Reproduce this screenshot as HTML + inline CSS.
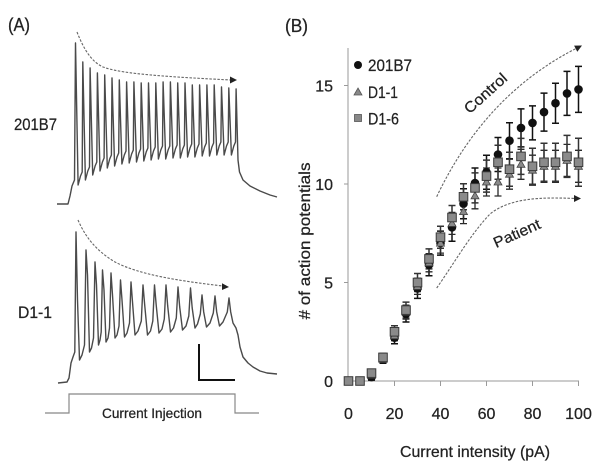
<!DOCTYPE html>
<html><head><meta charset="utf-8"><style>
html,body{margin:0;padding:0;background:#fff;}
svg{display:block;}
text{font-family:"Liberation Sans",sans-serif;fill:#222;stroke:#222;stroke-width:0.25;}
</style></head><body>
<svg width="600" height="470" viewBox="0 0 600 470" xmlns="http://www.w3.org/2000/svg">
<rect width="600" height="470" fill="#fff"/>
<!-- Panel A -->
<text x="8" y="31" font-size="18" textLength="22" lengthAdjust="spacingAndGlyphs">(A)</text>
<text x="14" y="130" font-size="17" textLength="43" lengthAdjust="spacingAndGlyphs">201B7</text>
<text x="18" y="318" font-size="17" textLength="34" lengthAdjust="spacingAndGlyphs">D1-1</text>

<!-- top trace -->
<path fill="none" stroke="#4a4a4a" stroke-width="1.4" stroke-linejoin="round" d="M57,204 L68,204 L70,196 L72,186 L74.5,180 L75.5,43
L78.1,185 L80.5,176 L82.2,172 L82.8,62
L85.4,180 L87.8,171 L89.5,167 L90.1,68
L92.7,175 L95.1,166 L96.8,162 L97.4,73
L100,171 L102.4,162 L104.1,158 L104.7,75
L107.3,168 L109.7,159 L111.4,155 L112,78
L114.6,166 L117,157 L118.7,153 L119.3,80
L121.9,164 L124.3,155 L126,151 L126.6,82
L129.2,163 L131.6,154 L133.3,150 L133.9,82
L136.5,162 L138.9,153 L140.6,149 L141.2,83
L143.8,161 L146.2,152 L147.9,148 L148.5,83
L151.1,160 L153.5,151 L155.2,147 L155.8,83
L158.4,159 L160.8,150 L162.5,146 L163.1,82
L165.7,159 L168.1,150 L169.8,146 L170.4,82
L173,158 L175.4,149 L177.1,145 L177.7,83
L180.3,158 L182.7,149 L184.4,145 L185,83
L187.6,157 L190,148 L191.7,144 L192.3,85
L194.9,157 L197.3,148 L199,144 L199.6,85
L202.2,156 L204.6,147 L206.3,143 L206.9,85
L209.5,156 L211.9,147 L213.6,143 L214.2,85
L216.8,155 L219.2,146 L220.9,142 L221.5,87
L224.1,155 L226.5,146 L228.2,142 L228.8,88
L231.4,155 L233.8,146 L235.5,142 L236.1,89
L238,160 L239.5,172 L243,180 L250,186 L260,191 L270,195 L277,197"/>

<!-- bottom trace -->
<path fill="none" stroke="#4a4a4a" stroke-width="1.4" stroke-linejoin="round" d="M58,383 L67,382 L69,378 L71,363 L73,357 L74.8,352 L76,232
L77.5,300 L79.5,360 L82,355 L84.5,345 L86,250
L87.5,275 L89.5,352 L91.5,348 L93.5,338 L95,262
L96.5,285 L98.5,345 L100,340 L101.2,332 L102.5,270
L104,290 L106,342 L108,338 L109.5,328 L111,273
L112.5,295 L115,338 L117,335 L119,326 L120.5,280
L122,300 L124.5,337 L127,333 L129.5,323 L131,282
L132.5,302 L135,335 L138,331 L141.3,321 L143,285
L144.7,305 L147.5,335 L150.5,331 L152.8,321 L154.5,285
L156.2,305 L159,333 L162,329 L164.3,319 L166,285
L167.7,306 L170.5,332 L173.5,328 L176.3,318 L178,287
L179.7,307 L182.5,330 L186,326 L188.8,316 L190.5,288
L192.2,308 L195,328 L197.5,324 L200.3,314 L202,295
L203.7,312 L206.5,327 L210,323 L213.3,313 L215,296
L216.7,312 L219.5,326 L223,322 L227.3,312 L229,298
L230.7,312 L233,323 L236,328 L238,335 L240,347 L243,357 L248,363 L253,367 L260,371 L267,373 L277,374"/>

<!-- dashed arrows A -->
<path fill="none" stroke="#666" stroke-width="1.1" stroke-dasharray="2.5 1.5" d="M77,32 C84,50 92,62 103,67 C120,73 150,76 231,80"/>
<polygon points="237,80 230,76.5 230,83.5" fill="#222"/>
<path fill="none" stroke="#666" stroke-width="1.1" stroke-dasharray="2.5 1.5" d="M78,220 C85,236 95,250 115,262 C140,275 180,281 223,286"/>
<polygon points="229,287 222,283.3 222,290" fill="#222"/>

<!-- scale bar -->
<path fill="none" stroke="#111" stroke-width="2" d="M199,344 L199,380 L235,380"/>

<!-- current injection -->
<path fill="none" stroke="#888" stroke-width="1.2" d="M45,413 L69,413 L69,394 L235,394 L235,413 L259,413"/>
<text x="152" y="418" font-size="14" text-anchor="middle" textLength="100" lengthAdjust="spacingAndGlyphs">Current Injection</text>

<!-- Panel B -->
<text x="285" y="32" font-size="18" textLength="23" lengthAdjust="spacingAndGlyphs">(B)</text>

<!-- axes -->
<path fill="none" stroke="#9a9a9a" stroke-width="1" d="M348,48 L348,381 L579,381 M344,85.5 L348,85.5 M344,184 L348,184 M344,282.5 L348,282.5 M394.5,381 L394.5,386 M440.5,381 L440.5,386 M486.5,381 L486.5,386 M532.5,381 L532.5,386 M578.5,381 L578.5,386"/>

<g font-size="16" text-anchor="end">
<text x="333" y="91.5">15</text>
<text x="333" y="190">10</text>
<text x="333" y="288.5">5</text>
<text x="333" y="387">0</text>
</g>
<g font-size="16" text-anchor="middle">
<text x="348.5" y="419">0</text>
<text x="394.5" y="419">20</text>
<text x="440.5" y="419">40</text>
<text x="486.5" y="419">60</text>
<text x="532.5" y="419">80</text>
<text x="578.5" y="419">100</text>
</g>
<text x="475" y="457" font-size="16" text-anchor="middle" textLength="150" lengthAdjust="spacingAndGlyphs">Current intensity (pA)</text>
<text transform="translate(310,241) rotate(-90)" x="0" y="0" font-size="16" text-anchor="middle" textLength="157" lengthAdjust="spacingAndGlyphs"># of action potentials</text>

<!-- legend -->
<circle cx="358" cy="65" r="4" fill="#111"/>
<text x="368" y="71" font-size="17" textLength="44" lengthAdjust="spacingAndGlyphs">201B7</text>
<polygon points="358,88 362,95 354,95" fill="#888" stroke="#555" stroke-width="0.8"/>
<text x="368" y="98" font-size="17" textLength="30" lengthAdjust="spacingAndGlyphs">D1-1</text>
<rect x="354.5" y="114.5" width="7" height="7" fill="#888" stroke="#555" stroke-width="0.8"/>
<text x="368" y="124.5" font-size="17" textLength="31" lengthAdjust="spacingAndGlyphs">D1-6</text>

<!-- Control / Patient arrows -->
<path fill="none" stroke="#666" stroke-width="1.1" stroke-dasharray="2.5 1.5" d="M436.7,196.7 Q485,95 576,48.5"/>
<polygon points="582,45.5 577.3,51.8 574.1,45.6" fill="#222"/>
<path fill="none" stroke="#666" stroke-width="1.1" stroke-dasharray="2.5 1.5" d="M436.7,288 C455,262 470,235 490,214 C510,198 540,197 575,198.5"/>
<polygon points="581,198.5 574,195 574,202" fill="#222"/>
<text transform="translate(489,97) rotate(-42)" font-size="15" text-anchor="middle" textLength="52" lengthAdjust="spacingAndGlyphs">Control</text>
<text transform="translate(519,238) rotate(-24)" font-size="15" text-anchor="middle" textLength="50" lengthAdjust="spacingAndGlyphs">Patient</text>

<!-- error bars -->
<path fill="none" stroke="#111" stroke-width="1.5" d="
M371.5,374.1V380.1M368,374.1h7M368,380.1h7
M383,355.3V363.3M379.5,355.3h7M379.5,363.3h7
M394.5,331.7V343.7M391,331.7h7M391,343.7h7
M406,306V322M402.5,306h7M402.5,322h7
M417.5,278.4V298.4M414,278.4h7M414,298.4h7
M429,253.8V275.8M425.5,253.8h7M425.5,275.8h7
M440.5,231.1V255.1M437,231.1h7M437,255.1h7
M452,213.3V241.3M448.5,213.3h7M448.5,241.3h7
M463.5,188.7V218.7M460,188.7h7M460,218.7h7
M475,168V198M471.5,168h7M471.5,198h7
M486.5,155.2V189.2M483,155.2h7M483,189.2h7
M498,137.5V171.5M494.5,137.5h7M494.5,171.5h7
M509.5,122.7V158.7M506,122.7h7M506,158.7h7
M521,108.9V146.9M517.5,108.9h7M517.5,146.9h7
M532.5,105.9V139.9M529,105.9h7M529,139.9h7
M544,93.1V131.1M540.5,93.1h7M540.5,131.1h7
M555.5,83.2V123.2M552,83.2h7M552,123.2h7
M567,71.4V115.4M563.5,71.4h7M563.5,115.4h7
M578.5,66.4V112.4M575,66.4h7M575,112.4h7
"/>
<path fill="none" stroke="#2a2a2a" stroke-width="1.3" d="
M371.5,373.1V377.1M368,373.1h7M368,377.1h7
M383,356.3V362.3M379.5,356.3h7M379.5,362.3h7
M394.5,330.7V340.7M391,330.7h7M391,340.7h7
M406,305.1V319.1M402.5,305.1h7M402.5,319.1h7
M417.5,278.4V294.4M414,278.4h7M414,294.4h7
M429,253.8V271.8M425.5,253.8h7M425.5,271.8h7
M440.5,233.1V253.1M437,233.1h7M437,253.1h7
M452,212.4V234.4M448.5,212.4h7M448.5,234.4h7
M463.5,199.6V223.6M460,199.6h7M460,223.6h7
M475,182.8V208.8M471.5,182.8h7M471.5,208.8h7
M486.5,168V196M483,168h7M483,196h7
M498,168V196M494.5,168h7M494.5,196h7
M509.5,159.2V189.2M506,159.2h7M506,189.2h7
M521,149.3V179.3M517.5,149.3h7M517.5,179.3h7
M532.5,155.2V185.2M529,155.2h7M529,185.2h7
M544,150.3V182.3M540.5,150.3h7M540.5,182.3h7
M555.5,150.3V182.3M552,150.3h7M552,182.3h7
M567,144.4V176.4M563.5,144.4h7M563.5,176.4h7
M578.5,150.3V182.3M575,150.3h7M575,182.3h7
"/>
<path fill="none" stroke="#333" stroke-width="1.5" d="
M371.5,370.1V376.1M368,370.1h7M368,376.1h7
M383,353.4V361.4M379.5,353.4h7M379.5,361.4h7
M394.5,325.8V337.8M391,325.8h7M391,337.8h7
M406,302.1V318.1M402.5,302.1h7M402.5,318.1h7
M417.5,273.5V291.5M414,273.5h7M414,291.5h7
M429,248.9V268.9M425.5,248.9h7M425.5,268.9h7
M440.5,226.2V248.2M437,226.2h7M437,248.2h7
M452,205.5V229.5M448.5,205.5h7M448.5,229.5h7
M463.5,183.8V209.8M460,183.8h7M460,209.8h7
M475,172.9V202.9M471.5,172.9h7M471.5,202.9h7
M486.5,160.1V192.1M483,160.1h7M483,192.1h7
M498,145.3V179.3M494.5,145.3h7M494.5,179.3h7
M509.5,152.2V186.2M506,152.2h7M506,186.2h7
M521,138.4V174.4M517.5,138.4h7M517.5,174.4h7
M532.5,148.3V184.3M529,148.3h7M529,184.3h7
M544,143.3V181.3M540.5,143.3h7M540.5,181.3h7
M555.5,143.3V181.3M552,143.3h7M552,181.3h7
M567,135.4V177.4M563.5,135.4h7M563.5,177.4h7
M578.5,138.3V186.3M575,138.3h7M575,186.3h7
"/>

<!-- circles 201B7 -->
<g fill="#111">
<circle cx="348.5" cy="381" r="4.3"/><circle cx="360" cy="381" r="4.3"/><circle cx="371.5" cy="377.1" r="4.3"/>
<circle cx="383" cy="359.3" r="4.3"/><circle cx="394.5" cy="337.7" r="4.3"/><circle cx="406" cy="314" r="4.3"/>
<circle cx="417.5" cy="288.4" r="4.3"/><circle cx="429" cy="264.8" r="4.3"/><circle cx="440.5" cy="243.1" r="4.3"/>
<circle cx="452" cy="227.3" r="4.3"/><circle cx="463.5" cy="203.7" r="4.3"/><circle cx="475" cy="183" r="4.3"/>
<circle cx="486.5" cy="172.2" r="4.3"/><circle cx="498" cy="154.5" r="4.3"/><circle cx="509.5" cy="140.7" r="4.3"/>
<circle cx="521" cy="127.9" r="4.3"/><circle cx="532.5" cy="122.9" r="4.3"/><circle cx="544" cy="112.1" r="4.3"/>
<circle cx="555.5" cy="103.2" r="4.3"/><circle cx="567" cy="93.4" r="4.3"/><circle cx="578.5" cy="89.4" r="4.3"/>
</g>

<!-- triangles D1-1 -->
<g fill="#8a8a8a" stroke="#444" stroke-width="0.8">
<polygon points="348.5,377 352.5,384 344.5,384"/><polygon points="360,377 364,384 356,384"/>
<polygon points="371.5,371.1 375.5,378.1 367.5,378.1"/><polygon points="383,355.3 387,362.3 379,362.3"/>
<polygon points="394.5,331.7 398.5,338.7 390.5,338.7"/><polygon points="406,308.1 410,315.1 402,315.1"/>
<polygon points="417.5,282.4 421.5,289.4 413.5,289.4"/><polygon points="429,258.8 433,265.8 425,265.8"/>
<polygon points="440.5,239.1 444.5,246.1 436.5,246.1"/><polygon points="452,219.4 456,226.4 448,226.4"/>
<polygon points="463.5,207.6 467.5,214.6 459.5,214.6"/><polygon points="475,191.8 479,198.8 471,198.8"/>
<polygon points="486.5,178 490.5,185 482.5,185"/><polygon points="498,178 502,185 494,185"/>
<polygon points="509.5,170.2 513.5,177.2 505.5,177.2"/><polygon points="521,160.3 525,167.3 517,167.3"/>
<polygon points="532.5,166.2 536.5,173.2 528.5,173.2"/><polygon points="544,162.3 548,169.3 540,169.3"/>
<polygon points="555.5,162.3 559.5,169.3 551.5,169.3"/><polygon points="567,156.4 571,163.4 563,163.4"/>
<polygon points="578.5,162.3 582.5,169.3 574.5,169.3"/>
</g>

<!-- squares D1-6 -->
<g fill="#8a8a8a" stroke="#3a3a3a" stroke-width="1">
<rect x="344.2" y="376.7" width="8.6" height="8.6"/><rect x="355.7" y="376.7" width="8.6" height="8.6"/>
<rect x="367.2" y="368.8" width="8.6" height="8.6"/><rect x="378.7" y="353.1" width="8.6" height="8.6"/>
<rect x="390.2" y="327.5" width="8.6" height="8.6"/><rect x="401.7" y="305.8" width="8.6" height="8.6"/>
<rect x="413.2" y="278.2" width="8.6" height="8.6"/><rect x="424.7" y="254.6" width="8.6" height="8.6"/>
<rect x="436.2" y="232.9" width="8.6" height="8.6"/><rect x="447.7" y="213.2" width="8.6" height="8.6"/>
<rect x="459.2" y="192.5" width="8.6" height="8.6"/><rect x="470.7" y="183.6" width="8.6" height="8.6"/>
<rect x="482.2" y="171.8" width="8.6" height="8.6"/><rect x="493.7" y="158" width="8.6" height="8.6"/>
<rect x="505.2" y="164.9" width="8.6" height="8.6"/><rect x="516.7" y="152.1" width="8.6" height="8.6"/>
<rect x="528.2" y="162" width="8.6" height="8.6"/><rect x="539.7" y="158" width="8.6" height="8.6"/>
<rect x="551.2" y="158" width="8.6" height="8.6"/><rect x="562.7" y="152.1" width="8.6" height="8.6"/>
<rect x="574.2" y="158" width="8.6" height="8.6"/>
</g>
</svg>
</body></html>
